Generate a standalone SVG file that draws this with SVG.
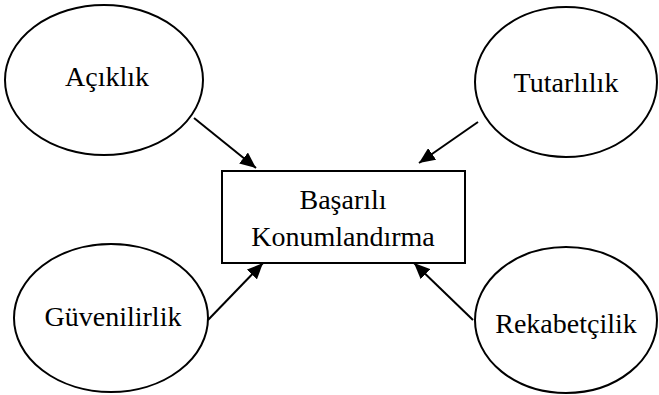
<svg xmlns="http://www.w3.org/2000/svg" width="659" height="395" viewBox="0 0 659 395">
<style>
.n{fill:#fff;stroke:#000;stroke-width:2}
.t{font-family:"Liberation Serif","Times New Roman",serif;font-size:28px;fill:#000;text-anchor:middle}
.c{stroke:#000;stroke-width:2;fill:none;marker-end:url(#ah)}
</style>
<defs>
<marker id="ah" viewBox="0 0 16 14" refX="16" refY="7" markerWidth="16" markerHeight="14" markerUnits="userSpaceOnUse" orient="auto">
<path d="M0,0 L16,7 L0,14 z" fill="#000"/>
</marker>
</defs>
<rect width="659" height="395" fill="#fff"/>
<g id="connectors">
<line class="c" x1="194" y1="118" x2="256" y2="168"/>
<line class="c" x1="478" y1="122" x2="419" y2="163"/>
<line class="c" x1="208" y1="320" x2="263" y2="263"/>
<line class="c" x1="473" y1="320" x2="414" y2="263"/>
</g>
<g id="acik"><ellipse class="n" cx="104" cy="80" rx="99" ry="75"/><text class="t" x="107" y="86">Açıklık</text></g>
<g id="tutar"><ellipse class="n" cx="566" cy="82" rx="91" ry="75"/><text class="t" x="566" y="92">Tutarlılık</text></g>
<g id="guven"><ellipse class="n" cx="111" cy="318" rx="97" ry="74"/><text class="t" x="113" y="326">Güvenilirlik</text></g>
<g id="rekabet"><ellipse class="n" cx="566" cy="320" rx="91" ry="73"/><text class="t" x="566" y="333">Rekabetçilik</text></g>
<g id="center"><rect class="n" x="222" y="171" width="243" height="92"/><text class="t" x="343" y="209">Başarılı</text><text class="t" x="343" y="246">Konumlandırma</text></g>
</svg>
